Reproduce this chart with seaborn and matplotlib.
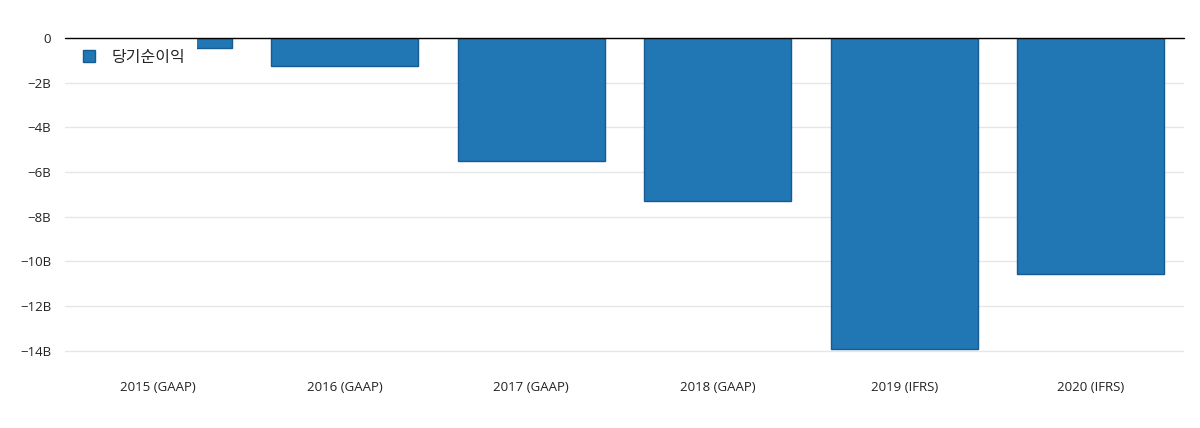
import seaborn as sns
import pandas as pd
import matplotlib.pyplot as plt
from matplotlib.ticker import FuncFormatter

years = ['2015 (GAAP)', '2016 (GAAP)', '2017 (GAAP)', '2018 (GAAP)', '2019 (IFRS)', '2020 (IFRS)']
net_income = [-0.45, -1.26, -5.52, -7.31, -13.95, -10.58]  # billions
series_name = '당기순이익'
y_ticks = [0, -2, -4, -6, -8, -10, -12, -14]

df = pd.DataFrame({'year': years, 'value': net_income})

sns.set_style('white')
plt.rcParams['font.family'] = ['Open Sans', 'Noto Sans CJK KR', 'DejaVu Sans']

fig = plt.figure(figsize=(12, 4.28), dpi=100)
ax = fig.add_axes([0.0542, 0.1495, 0.9325, 0.7617])

sns.barplot(data=df, x='year', y='value', color='#2077b4', saturation=1,
            width=0.79, edgecolor='#165a94', linewidth=1, label=series_name, ax=ax)

ax.set_ylim(-14.6, 0)
ax.set_yticks(y_ticks)
ax.yaxis.set_major_formatter(FuncFormatter(lambda v, p: '0' if v == 0 else f'\u2212{abs(v):.0f}B'))
ax.grid(axis='y', color='#e6e6e6', linewidth=1)
ax.set_axisbelow(True)
ax.axhline(0, color='black', linewidth=1, clip_on=False, zorder=12)
for s in ax.spines.values():
    s.set_visible(False)
ax.tick_params(axis='both', length=0, labelsize=9.5, colors='#222222')
ax.tick_params(axis='x', pad=12)
ax.tick_params(axis='y', pad=10)
ax.set_xlabel('')
ax.set_ylabel('')

leg = ax.legend(loc='upper left', bbox_to_anchor=(0.0054, 1.0), borderaxespad=0, frameon=True,
                fontsize=11.5, handlelength=0.78, handleheight=0.78, handletextpad=1.05,
                borderpad=0.72, fancybox=False)
leg.get_frame().set_facecolor('white')
leg.get_frame().set_edgecolor('none')
leg.get_frame().set_alpha(1)
leg.set_zorder(10)

fig.savefig('out.png', dpi=100)
